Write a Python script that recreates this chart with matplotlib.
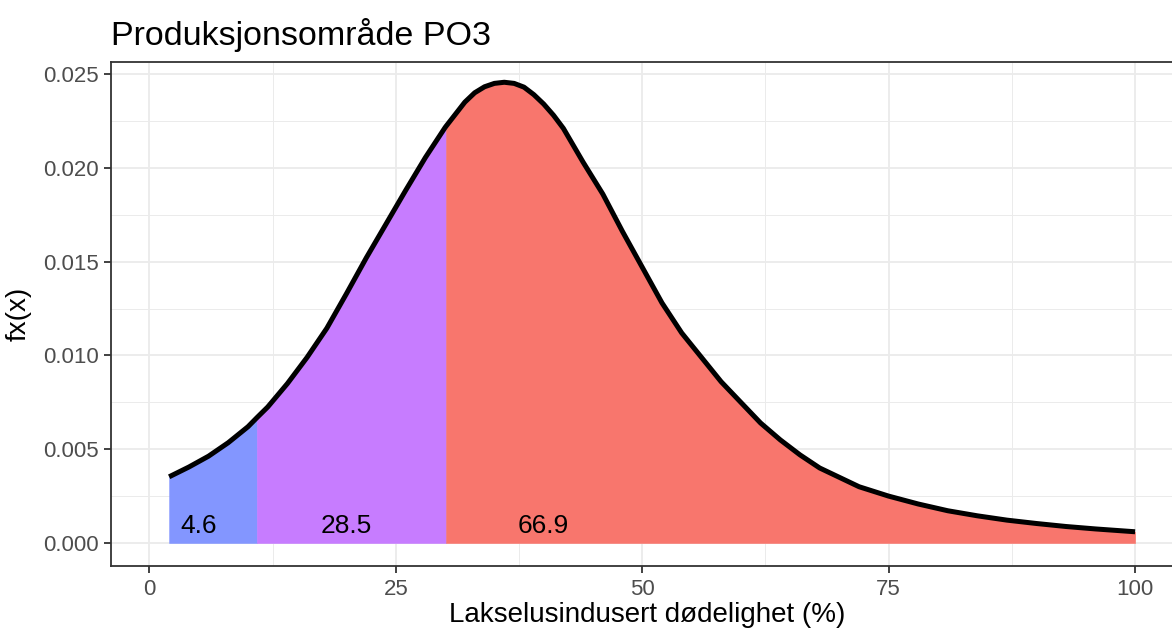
import matplotlib.pyplot as plt
from matplotlib.ticker import MultipleLocator, FormatStrFormatter

# density curve
x_vals = [2, 4, 6, 8, 10, 10.9, 12, 14, 16, 18, 20, 22, 24, 26, 28, 30, 30.1,
          32, 33, 34, 35, 36, 37, 38, 39, 40, 41, 42, 44, 46, 48, 50, 52, 54,
          56, 58, 60, 62, 64, 66, 68, 70, 72, 75, 78, 81, 84, 87, 90, 93, 96,
          100]
y_vals = [0.00353, 0.00405, 0.00463, 0.00535, 0.00620, 0.00668, 0.00725,
          0.00850, 0.00990, 0.01145, 0.01330, 0.01520, 0.01700, 0.01880,
          0.02055, 0.02215, 0.02222, 0.02350, 0.02400, 0.02432, 0.02450,
          0.02456, 0.02450, 0.02430, 0.02390, 0.02340, 0.02280, 0.02210,
          0.02030, 0.01860, 0.01660, 0.01470, 0.01280, 0.01120, 0.00990,
          0.00860, 0.00750, 0.00640, 0.00550, 0.00470, 0.00400, 0.00350,
          0.00300, 0.00250, 0.00208, 0.00172, 0.00145, 0.00122, 0.00104,
          0.00088, 0.00075, 0.00060]

# shaded intervals and their percentages
breaks = [2, 10.9, 30.1, 100]
area_labels = ['4.6', '28.5', '66.9']
label_x = [5, 20, 40]
fill_colors = ['#8396FF', '#C77CFF', '#F8766D']

plt.rcParams['font.family'] = ['Liberation Sans', 'DejaVu Sans']

fig = plt.figure(figsize=(11.72, 6.32), dpi=100)
ax = fig.add_axes([0.0947, 0.1044, 0.915, 0.7975])

for i in range(3):
    lo, hi = breaks[i], breaks[i + 1]
    xs = [x for x in x_vals if lo <= x <= hi]
    ys = [y for x, y in zip(x_vals, y_vals) if lo <= x <= hi]
    ax.fill_between(xs, 0, ys, facecolor=fill_colors[i],
                    edgecolor=fill_colors[i], linewidth=0.4, zorder=2)
    ax.text(label_x[i], 0.0009, area_labels[i], ha='center', va='center',
            fontsize=19, color='black', zorder=4)

ax.plot(x_vals, y_vals, color='black', linewidth=3.6,
        solid_capstyle='butt', solid_joinstyle='round', zorder=3)

ax.set_xlim(-3.9, 104.9)
ax.set_ylim(-0.001226, 0.02564)
ax.xaxis.set_major_locator(MultipleLocator(25))
ax.xaxis.set_minor_locator(MultipleLocator(12.5))
ax.yaxis.set_major_locator(MultipleLocator(0.005))
ax.yaxis.set_minor_locator(MultipleLocator(0.0025))
ax.yaxis.set_major_formatter(FormatStrFormatter('%.3f'))

ax.grid(which='major', color='#EBEBEB', linewidth=1.3, zorder=0)
ax.grid(which='minor', color='#EBEBEB', linewidth=0.7, zorder=0)
ax.set_axisbelow(True)

for s in ax.spines.values():
    s.set_color('#333333')
    s.set_linewidth(1.3)

ax.tick_params(which='major', length=5, width=1.3, color='#333333',
               labelsize=16, labelcolor='#4D4D4D', pad=4)
ax.tick_params(which='minor', length=0)

ax.set_xlabel('Lakselusindusert dødelighet (%)', fontsize=20, labelpad=2)
ax.set_ylabel('fx(x)', fontsize=20, labelpad=8)
ax.set_title('Produksjonsområde PO3', loc='left', fontsize=24.5, pad=12)

plt.savefig('out.png', dpi=100)
